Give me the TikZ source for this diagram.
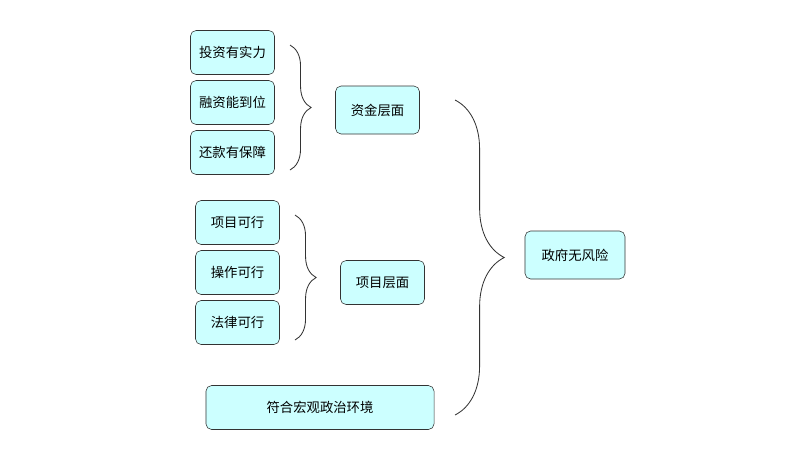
\documentclass[tikz,border=0pt]{standalone}
\usepackage{fontspec}
\newfontfamily\cjk{Noto Sans CJK SC}
\usetikzlibrary{decorations.pathreplacing}
\definecolor{boxfill}{HTML}{CCFFFF}
\tikzset{
  item/.style={draw=black!80,fill=boxfill,rounded corners=4pt,minimum height=1.1cm,
    font=\cjk\fontsize{9.5}{11}\selectfont,inner sep=2pt},
  bracket/.style={decorate,decoration={brace,amplitude=#1},draw=black!80,line width=0.6pt}
}
\begin{document}
\begin{tikzpicture}[x=0.025cm,y=-0.025cm]
 \useasboundingbox (0,0) rectangle (800,450);
 % money level
 \node[item,minimum width=2.1cm] (tz) at (232.5,52.5) {投资有实力};
 \node[item,minimum width=2.1cm] (rz) at (232.5,102.5) {融资能到位};
 \node[item,minimum width=2.1cm] (hk) at (232.5,152.5) {还款有保障};
 \node[item,minimum width=2.1cm,minimum height=1.2cm] (zj) at (377.5,110) {资金层面};
 % project level
 \node[item,minimum width=2.1cm] (xm) at (237.5,222.5) {项目可行};
 \node[item,minimum width=2.1cm] (cz) at (237.5,272.5) {操作可行};
 \node[item,minimum width=2.1cm] (fl) at (237.5,322.5) {法律可行};
 \node[item,minimum width=2.1cm] (xc) at (382.5,282.5) {项目层面};
 % environment
 \node[item,minimum width=5.7cm] (hj) at (320,407.5) {符合宏观政治环境};
 \node[item,minimum width=2.5cm,minimum height=1.2cm] (zf) at (575,255) {政府无风险};
 % braces
 \coordinate (b1a) at (290,45); \coordinate (b1b) at (290,170);
 \coordinate (b2a) at (295,215); \coordinate (b2b) at (295,340);
 \coordinate (b3a) at (455,100); \coordinate (b3b) at (455,415);
 \draw[bracket=15pt] (b1a) -- (b1b);
 \draw[bracket=15pt] (b2a) -- (b2b);
 \draw[bracket=35pt] (b3a) -- (b3b);
\end{tikzpicture}
\end{document}
